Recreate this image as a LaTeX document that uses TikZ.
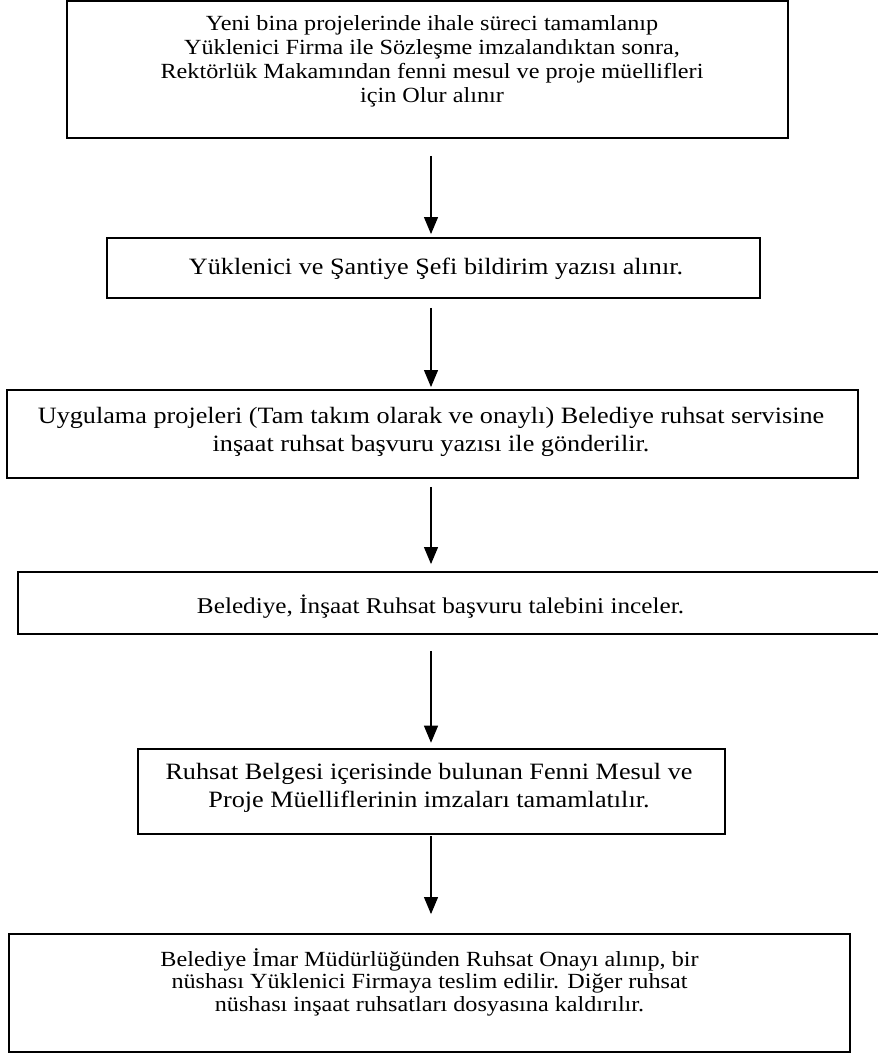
\documentclass[tikz,border=0pt]{standalone}
\usepackage{fontspec}
\setmainfont{Liberation Serif}[FakeStretch=1.12]
\usetikzlibrary{arrows.meta}
\begin{document}
\begin{tikzpicture}[x=0.75pt,y=-0.75pt,
  box/.style={draw, line width=1.4pt, rectangle, inner sep=0pt},
  txt/.style={inner sep=0pt, align=center, anchor=base},
  arr/.style={line width=0.8pt, -{Triangle[width=10.5pt,length=12.75pt]}}]
\useasboundingbox (0,0) rectangle (877,1055);
\coordinate (ax) at (431,0);
% boxes
\node[box,minimum width=540.75pt,minimum height=102.75pt] (b1) at (427.5,69.5) {};
\node[box,minimum width=489.75pt,minimum height=45pt] (b2) at (433.5,268) {};
\node[box,minimum width=638.25pt,minimum height=66pt] (b3) at (432.5,434) {};
\node[box,minimum width=654pt,minimum height=46.5pt] (b4) at (454,603) {};
\node[box,minimum width=440.25pt,minimum height=63.75pt] (b5) at (431.5,791.5) {};
\node[box,minimum width=630.75pt,minimum height=88.5pt] (b6) at (429.5,993) {};
% texts (base anchor = baseline of the last line)
\node[txt,font=\fontsize{16.2}{18.2}\selectfont] (t1) at (432,103)
  {Yeni bina projelerinde ihale süreci tamamlanıp\\
   Yüklenici Firma ile Sözleşme imzalandıktan sonra,\\
   Rektörlük Makamından fenni mesul ve proje müellifleri\\
   için Olur alınır};
\node[txt,font=\fontsize{17.55}{21}\selectfont] (t2) at (436,275)
  {Yüklenici ve Şantiye Şefi bildirim yazısı alınır.};
\node[txt,font=\fontsize{17.55}{21}\selectfont] (t3) at (431,451)
  {Uygulama projeleri (Tam takım olarak ve onaylı) Belediye ruhsat servisine\\
   inşaat ruhsat başvuru yazısı ile gönderilir.};
\node[txt,font=\fontsize{16.9}{21}\selectfont] (t4) at (440.5,613)
  {Belediye, İnşaat Ruhsat başvuru talebini inceler.};
\node[txt,font=\fontsize{17.55}{21}\selectfont] (t5) at (429,807)
  {Ruhsat Belgesi içerisinde bulunan Fenni Mesul ve\\
   Proje Müelliflerinin imzaları tamamlatılır.};
\node[txt,font=\fontsize{16.2}{16.6}\selectfont] (t6) at (429.5,1011)
  {Belediye İmar Müdürlüğünden Ruhsat Onayı alınıp, bir\\
   nüshası Yüklenici Firmaya teslim edilir. Diğer ruhsat\\
   nüshası inşaat ruhsatları dosyasına kaldırılır.};
% connectors
\draw[arr, shorten <=12.75pt, shorten >=2.25pt] (b1.south -| ax) -- (b2.north -| ax);
\draw[arr, shorten <=6.75pt, shorten >=1.5pt] (b2.south -| ax) -- (b3.north -| ax);
\draw[arr, shorten <=6pt, shorten >=5.25pt] (b3.south -| ax) -- (b4.north -| ax);
\draw[arr, shorten <=12pt, shorten >=4pt] (b4.south -| ax) -- (b5.north -| ax);
\draw[arr, shorten <=1pt, shorten >=14.25pt] (b5.south -| ax) -- (b6.north -| ax);
\end{tikzpicture}
\end{document}
